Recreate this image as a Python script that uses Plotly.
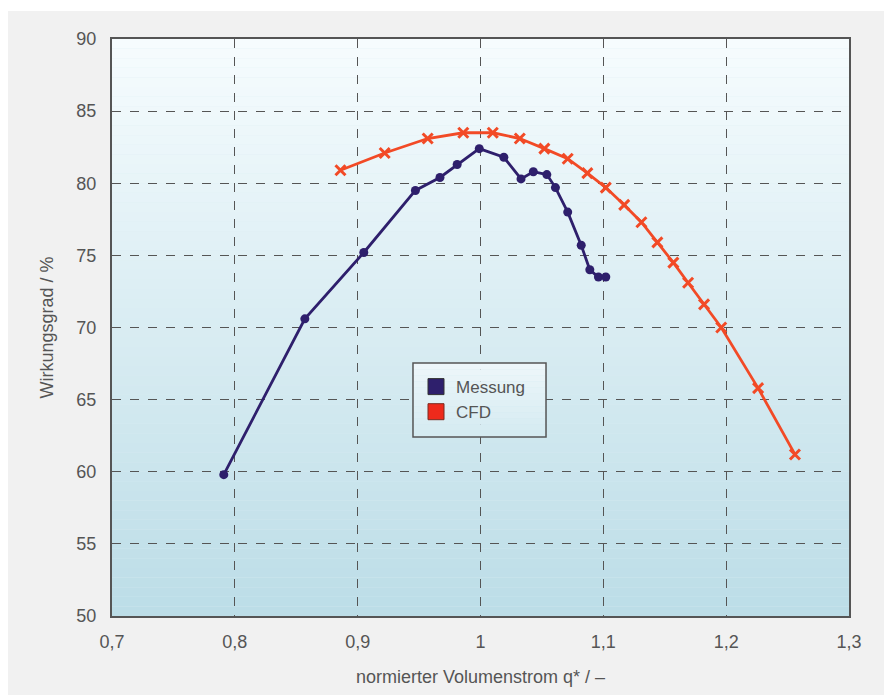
import plotly.graph_objects as go

# Messung (measurement)
mess_x = [0.791, 0.857, 0.905, 0.947, 0.967, 0.981, 0.999, 1.019, 1.033, 1.043, 1.054, 1.061, 1.071, 1.082, 1.089, 1.096, 1.102]
mess_y = [59.8, 70.6, 75.2, 79.5, 80.4, 81.3, 82.4, 81.8, 80.3, 80.8, 80.6, 79.7, 78.0, 75.7, 74.0, 73.5, 73.5]

# CFD
cfd_x = [0.886, 0.922, 0.957, 0.986, 1.010, 1.032, 1.052, 1.071, 1.087, 1.102, 1.117, 1.131, 1.144, 1.157, 1.169, 1.182, 1.196, 1.226, 1.256]
cfd_y = [80.9, 82.1, 83.1, 83.5, 83.5, 83.1, 82.4, 81.7, 80.7, 79.7, 78.5, 77.3, 75.9, 74.5, 73.1, 71.6, 70.0, 65.8, 61.2]

x_ticks = [0.7, 0.8, 0.9, 1.0, 1.1, 1.2, 1.3]
x_tick_labels = ["0,7", "0,8", "0,9", "1", "1,1", "1,2", "1,3"]
y_ticks = [50, 55, 60, 65, 70, 75, 80, 85, 90]

MESS_COLOR = "#2e1f6c"
CFD_COLOR = "#f24a26"
TEXT_COLOR = "#555555"
FONT = "Liberation Sans"

fig = go.Figure()

fig.add_trace(go.Scatter(
    x=mess_x, y=mess_y, mode="lines+markers", showlegend=False,
    line=dict(color=MESS_COLOR, width=2.8),
    marker=dict(symbol="circle", size=9, color=MESS_COLOR),
))
fig.add_trace(go.Scatter(
    x=cfd_x, y=cfd_y, mode="lines+markers", showlegend=False,
    line=dict(color=CFD_COLOR, width=2.8),
    marker=dict(symbol="x-thin", size=10, color=CFD_COLOR, line=dict(color=CFD_COLOR, width=3)),
))
# legend entries (square swatches)
fig.add_trace(go.Scatter(
    x=[None], y=[None], mode="markers", name="Messung",
    marker=dict(symbol="square", size=16, color=MESS_COLOR, line=dict(color="#333333", width=1)),
))
fig.add_trace(go.Scatter(
    x=[None], y=[None], mode="markers", name="CFD",
    marker=dict(symbol="square", size=16, color="#ee2a1c", line=dict(color="#7a2a20", width=1)),
))


def lerp(c0, c1, t):
    return "rgb({},{},{})".format(*[round(a + (b - a) * t) for a, b in zip(c0, c1)])


# gradient background of plot area
shapes = []
n = 60
top = (246, 252, 254)
bot = (188, 221, 231)
for i in range(n):
    t = (i + 0.5) / n
    y1 = 90 - 40 * i / n
    y0 = 90 - 40 * (i + 1) / n
    shapes.append(dict(type="rect", xref="paper", yref="y", x0=0, x1=1, y0=y0, y1=y1,
                       fillcolor=lerp(top, bot, t), line=dict(width=0), layer="below"))
# white strip at very top and right of page
shapes.append(dict(type="rect", xref="paper", yref="paper", x0=-0.3, x1=1.3, y0=1.0485, y1=1.2,
                   fillcolor="white", line=dict(width=0), layer="below"))
shapes.append(dict(type="rect", xref="paper", yref="paper", x0=1.049, x1=1.3, y0=-0.3, y1=1.2,
                   fillcolor="white", line=dict(width=0), layer="below"))

# legend box (opaque, gradient) drawn as shapes
lx0, lx1 = 0.4084, 0.5889
ly_top, ly_bot = 0.4385, 0.3102
m = 12
ltop = (238, 247, 250)
lbot = (212, 234, 241)
for i in range(m):
    t = (i + 0.5) / m
    y1 = ly_top - (ly_top - ly_bot) * i / m
    y0 = ly_top - (ly_top - ly_bot) * (i + 1) / m
    shapes.append(dict(type="rect", xref="paper", yref="paper", x0=lx0, x1=lx1, y0=y0, y1=y1,
                       fillcolor=lerp(ltop, lbot, t), line=dict(width=0), layer="above"))
shapes.append(dict(type="rect", xref="paper", yref="paper", x0=lx0, x1=lx1, y0=ly_bot, y1=ly_top,
                   fillcolor="rgba(0,0,0,0)", line=dict(color="#555555", width=1.5), layer="above"))

fig.update_layout(
    width=892, height=695,
    margin=dict(l=104, r=51, t=31, b=87),
    paper_bgcolor="#f1f1f1",
    plot_bgcolor="#dcedf3",
    font=dict(family=FONT, size=18, color=TEXT_COLOR),
    shapes=shapes,
    showlegend=True,
    legend=dict(
        x=0.4125, y=0.428, xanchor="left", yanchor="top",
        bgcolor="rgba(0,0,0,0)", borderwidth=0,
        font=dict(family=FONT, size=17, color=TEXT_COLOR),
        itemwidth=30, tracegroupgap=0,
    ),
    xaxis=dict(
        range=[0.7, 1.3], tickvals=x_ticks, ticktext=x_tick_labels,
        showgrid=True, gridcolor="#555555", griddash="dash", gridwidth=1,
        showline=True, linecolor="#555555", linewidth=2, mirror=True,
        ticks="", zeroline=False, ticklabelstandoff=8,
        tickfont=dict(size=18),
        title=dict(text="normierter Volumenstrom q* / –", font=dict(size=18, color=TEXT_COLOR), standoff=20),
    ),
    yaxis=dict(
        range=[50, 90], tickvals=y_ticks,
        showgrid=True, gridcolor="#555555", griddash="dash", gridwidth=1,
        showline=True, linecolor="#555555", linewidth=2, mirror=True,
        ticks="", zeroline=False, ticklabelstandoff=10,
        tickfont=dict(size=18),
        title=dict(text="Wirkungsgrad / %", font=dict(size=18, color=TEXT_COLOR), standoff=18),
    ),
)

fig.write_html("out.html")
